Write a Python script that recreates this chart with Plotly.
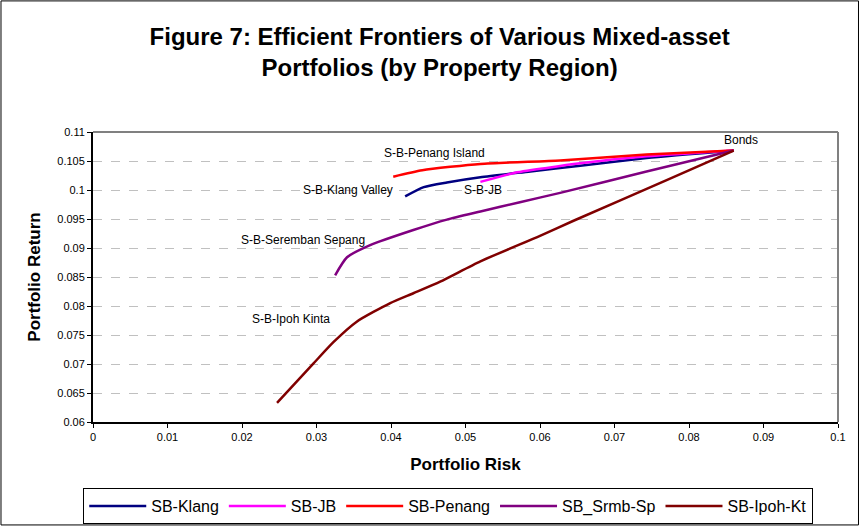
import plotly.graph_objects as go

# Efficient frontiers (risk, return) for stock-bond-property portfolios by region
klang_risk = [0.0419, 0.0444, 0.0475, 0.0520, 0.0587, 0.0654, 0.0743, 0.0860]
klang_ret = [0.0989, 0.1005, 0.1013, 0.1022, 0.1032, 0.1042, 0.1055, 0.1068]

jb_risk = [0.0520, 0.0564, 0.0609, 0.0654, 0.0743, 0.0860]
jb_ret = [0.1014, 0.1029, 0.1038, 0.1046, 0.1058, 0.1068]

penang_risk = [0.0403, 0.0442, 0.0520, 0.0627, 0.0743, 0.0860]
penang_ret = [0.1023, 0.1034, 0.1045, 0.1051, 0.1061, 0.1068]

srmb_risk = [0.0325, 0.0341, 0.0372, 0.0430, 0.0475, 0.0520, 0.0573, 0.0627, 0.0743, 0.0860]
srmb_ret = [0.0853, 0.0884, 0.0905, 0.0931, 0.0949, 0.0963, 0.0979, 0.0995, 0.1032, 0.1068]

ipoh_risk = [0.0247, 0.0296, 0.0323, 0.0354, 0.0399, 0.0430, 0.0466, 0.0520, 0.0600, 0.0645, 0.0770, 0.0860]
ipoh_ret = [0.0633, 0.0701, 0.0738, 0.0773, 0.0805, 0.0822, 0.0842, 0.0877, 0.0921, 0.0947, 0.1017, 0.1068]

series_names = ["SB-Klang", "SB-JB", "SB-Penang", "SB_Srmb-Sp", "SB-Ipoh-Kt"]
series_colors = ["#000080", "#FF00FF", "#FF0000", "#800080", "#800000"]

# Curve labels placed next to each frontier
label_texts = ["S-B-Penang Island", "S-B-Klang Valley", "S-B-JB",
               "S-B-Seremban Sepang", "S-B-Ipoh Kinta", "Bonds"]
label_x = [0.0458, 0.0342, 0.0523, 0.0282, 0.0266, 0.0870]
label_y = [0.1063, 0.1000, 0.1000, 0.0913, 0.0777, 0.1087]

x_tick_vals = [0, 0.01, 0.02, 0.03, 0.04, 0.05, 0.06, 0.07, 0.08, 0.09, 0.1]
x_tick_text = ["0", "0.01", "0.02", "0.03", "0.04", "0.05", "0.06", "0.07", "0.08", "0.09", "0.1"]
y_tick_vals = [0.06, 0.065, 0.07, 0.075, 0.08, 0.085, 0.09, 0.095, 0.1, 0.105, 0.11]
y_tick_text = ["0.06", "0.065", "0.07", "0.075", "0.08", "0.085", "0.09", "0.095", "0.1", "0.105", "0.11"]

FONT = "Liberation Sans, Arial, sans-serif"

fig = go.Figure()
all_x = [klang_risk, jb_risk, penang_risk, srmb_risk, ipoh_risk]
all_y = [klang_ret, jb_ret, penang_ret, srmb_ret, ipoh_ret]
for name, color, xs, ys in zip(series_names, series_colors, all_x, all_y):
    fig.add_trace(go.Scatter(
        x=xs, y=ys, mode="lines", name=name,
        line=dict(color=color, width=2.5, shape="spline", smoothing=0.6),
        hoverinfo="x+y+name",
    ))

for t, lx, ly in zip(label_texts, label_x, label_y):
    fig.add_annotation(x=lx, y=ly, text=t, showarrow=False,
                       font=dict(family=FONT, size=12, color="black"))

# Grey frame on top/right of the plot area, outer border around the chart
fig.add_shape(type="line", xref="paper", yref="paper", x0=0, x1=1, y0=1, y1=1,
              line=dict(color="#808080", width=2))
fig.add_shape(type="line", xref="paper", yref="paper", x0=1, x1=1, y0=0, y1=1,
              line=dict(color="#808080", width=2))
fig.add_shape(type="rect", xref="paper", yref="paper",
              x0=-0.1235, x1=1.0275, y0=-0.355, y1=1.452,
              line=dict(color="black", width=1), layer="below")

fig.update_layout(
    width=862, height=526,
    margin=dict(l=93, r=24, t=132, b=104),
    paper_bgcolor="white", plot_bgcolor="white",
    font=dict(family=FONT, color="black"),
    title=dict(
        text="<b>Figure 7: Efficient Frontiers of Various Mixed-asset<br>Portfolios (by Property Region)</b>",
        x=0.51, xanchor="center", y=0.914, yanchor="middle",
        font=dict(family=FONT, size=24, color="black"),
    ),
    xaxis=dict(
        range=[0, 0.1], tickvals=x_tick_vals, ticktext=x_tick_text,
        showgrid=False, zeroline=False, showline=True, linecolor="black", linewidth=2,
        ticks="outside", ticklen=4, tickcolor="black",
        tickfont=dict(family=FONT, size=11, color="black"),
        title=dict(text="<b>Portfolio Risk</b>", font=dict(family=FONT, size=17, color="black"),
                   standoff=16),
    ),
    yaxis=dict(
        range=[0.06, 0.11], tickvals=y_tick_vals, ticktext=y_tick_text,
        showgrid=True, gridcolor="#C0C0C0", griddash="dash", gridwidth=1,
        zeroline=False, showline=True, linecolor="black", linewidth=2,
        ticks="outside", ticklen=4, tickcolor="black",
        tickfont=dict(family=FONT, size=11, color="black"),
        title=dict(text="<b>Portfolio Return</b>", font=dict(family=FONT, size=17, color="black"),
                   standoff=12),
    ),
    legend=dict(
        orientation="h", xref="container", yref="container",
        x=0.52, xanchor="center", y=0.0722, yanchor="top",
        bordercolor="black", borderwidth=1, bgcolor="white",
        font=dict(family=FONT, size=16, color="black"),
        itemwidth=57, traceorder="normal",
    ),
    showlegend=True,
)

fig.write_html("out.html")
